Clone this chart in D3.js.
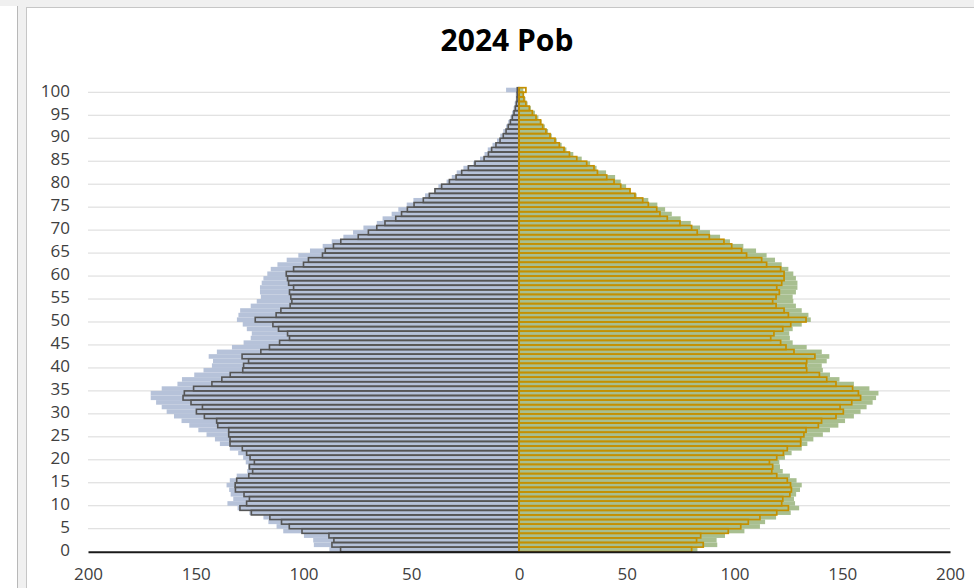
<!DOCTYPE html>
<html>
<head>
<meta charset="utf-8">
<script src="https://cdn.jsdelivr.net/npm/d3@7"></script>
<style>
  html, body { margin: 0; padding: 0; background: #f0f0f0; }
  body { width: 974px; height: 588px; overflow: hidden; position: relative; }
  #side { position: absolute; left: 0; top: 6px; width: 17px; height: 600px; background: #fff; border-right: 1px solid #b8b8b8; }
  #panel { position: absolute; left: 26px; top: 7px; width: 960px; height: 600px; background: #fff; border: 1px solid #c6c6c6; }
  svg { position: absolute; left: 0; top: 0; }
</style>
</head>
<body>
<div id="side"></div>
<div id="panel"></div>
<div id="chart"></div>
<script>
// Ages 0..100
const ages = d3.range(0, 101);

// left side: outlined series and filled series behind it
const leftOutline = [82.8, 86.8, 85.9, 88.2, 100.7, 106.6, 110.2, 115.6, 124.2, 129.5,
  126.4, 125.1, 127.6, 131.6, 131.7, 131, 125.4, 123.6, 125.1, 122.8,
  124.8, 126.4, 128.4, 134.1, 134.1, 134.7, 134.7, 139.8, 140.3, 146,
  149.7, 146.9, 152.2, 155.9, 155.3, 151, 142.5, 137.9, 134, 128.2,
  127.8, 125.5, 128.5, 119.8, 115.8, 111.1, 106.5, 107.4, 111.6, 114.2,
  122.4, 112.7, 110.5, 106.2, 105.4, 105.9, 106.5, 104.6, 106.9, 107.4,
  108, 104.6, 100, 97.7, 91.2, 89.9, 86.1, 82.7, 74.6, 69.9,
  66, 62.2, 57.2, 54.5, 51.8, 48.7, 44.4, 41.6, 39, 35.9,
  32.3, 29.2, 26.6, 23.5, 20.4, 16.2, 14.2, 12.7, 10.7, 8.8,
  7.3, 6, 5, 4, 3.1, 2.3, 1.7, 1.2, 0.9, 0.8, 0.8];
const leftFill = [88, 95.2, 95.5, 99.8, 109.4, 112.5, 116.3, 118.6, 125.1, 130.6,
  135.3, 132.6, 133.8, 134.5, 135.7, 134.2, 131, 126.1, 125.7, 126.8,
  128, 130.3, 134.2, 138.8, 141.1, 145, 148.8, 153, 156.6, 160.1,
  163.5, 165.8, 168.4, 170.9, 170.9, 165.8, 158.5, 156.4, 150.7, 146.4,
  142.5, 142, 144, 140.2, 133.2, 127.8, 124.5, 124, 126.3, 128.2,
  130.9, 130.2, 129.4, 124.5, 121.7, 119.8, 120.2, 120.2, 119.4, 118.6,
  116.8, 115.2, 112.1, 107.8, 102.4, 97, 91.1, 86.9, 81.5, 77,
  72.2, 66, 63.3, 59.1, 56, 52.1, 49, 43.6, 39, 37.4,
  33.6, 31.2, 28.9, 25.8, 21.2, 18.1, 16, 14.5, 12.3, 10.2,
  8.7, 7.3, 6, 5, 4, 3.2, 2.5, 2, 1.5, 1.5, 6];

// right side
const rightOutline = [80.1, 85.5, 82.4, 84.3, 97.1, 102.9, 106.4, 111.8, 119.6, 125,
  121.9, 122.4, 125.7, 126.4, 126, 124.5, 119.6, 117.3, 117.7, 116.2,
  119.6, 122.7, 124.5, 130.7, 130.7, 132.2, 133.2, 138.9, 140.4, 147.1,
  150.5, 149, 154.4, 158.5, 157.5, 154.8, 147.1, 142.8, 139.4, 133.5,
  133.2, 133.5, 137.3, 127.6, 123.9, 121.4, 116.8, 118.3, 122.4, 126.1,
  133.2, 125, 123, 119.3, 117.7, 119.3, 120.8, 119.6, 121.9, 123,
  123, 121.4, 114.9, 112.6, 105.6, 103.3, 98.7, 95.1, 88.3, 82.7,
  80.1, 74.7, 68.8, 65.4, 63.9, 60, 57.4, 53.8, 51.5, 47.2,
  44.1, 40.7, 36.4, 34.8, 31.4, 26.8, 23.4, 20.9, 18.7, 16.7,
  14.4, 12.5, 11, 10, 7.9, 6.2, 4.8, 3.2, 2.3, 2, 3.2];
const rightFill = [82.8, 92, 91.7, 95.6, 104.6, 111.8, 114.2, 119.3, 126.1, 130,
  128.1, 127.6, 128.6, 130.4, 131.2, 128.8, 125.7, 122.4, 121.1, 120.8,
  123.4, 126.5, 131.2, 133.8, 136.6, 141, 144.3, 148.2, 151.3, 155.4,
  158.5, 161.3, 164.1, 165.7, 166.8, 162.6, 155.4, 148.7, 144.3, 141,
  140.5, 142.8, 144, 140.5, 133.5, 127, 125.7, 125.4, 127, 131.2,
  135.4, 134.3, 131.2, 128.5, 127.3, 127, 128.5, 129.2, 129.2, 128.5,
  127.3, 125, 121.9, 118.8, 114.9, 110, 104.1, 97.9, 93.3, 88.6,
  84, 79.7, 75, 70.9, 67.8, 64.2, 60, 54.6, 51.8, 49.7,
  47.2, 44.6, 40.4, 36, 33, 29.1, 25.2, 22, 19.8, 17.5,
  15.2, 13.5, 12, 10.5, 9, 7.4, 5.5, 4, 3, 2, 2];

const xTicks = [-200, -150, -100, -50, 0, 50, 100, 150, 200];
const yTicks = d3.range(0, 101, 5);

const width = 974;
const height = 588;

const x = d3.scaleLinear().domain([-200, 200]).range([88, 950]);
const y = d3.scaleLinear().domain([0, 101]).range([551.7, 87.7]);

const svg = d3.select("#chart")
  .append("svg")
  .attr("width", width)
  .attr("height", height)
  .style("font-family", "'Open Sans', sans-serif");

// title
svg.append("text")
  .attr("x", 507)
  .attr("y", 51)
  .attr("text-anchor", "middle")
  .style("font-size", "30px")
  .style("font-weight", "bold")
  .style("fill", "#000")
  .text("2024 Pob");

// gridlines
svg.append("g")
  .selectAll("line")
  .data(yTicks.filter(d => d > 0))
  .enter()
  .append("line")
  .attr("x1", x(-200))
  .attr("x2", x(200))
  .attr("y1", d => y(d))
  .attr("y2", d => y(d))
  .attr("stroke", "#d9d9d9")
  .attr("stroke-width", 1);

// filled bars behind
svg.append("g")
  .selectAll("rect")
  .data(ages)
  .enter()
  .append("rect")
  .attr("x", d => x(-leftFill[d]))
  .attr("y", d => y(d + 1))
  .attr("width", d => x(0) - x(-leftFill[d]))
  .attr("height", d => y(d) - y(d + 1))
  .attr("fill", "#b6c2d9");

svg.append("g")
  .selectAll("rect")
  .data(ages)
  .enter()
  .append("rect")
  .attr("x", x(0))
  .attr("y", d => y(d + 1))
  .attr("width", d => x(rightFill[d]) - x(0))
  .attr("height", d => y(d) - y(d + 1))
  .attr("fill", "#a8bf90");

// outlined bars
svg.append("g")
  .selectAll("rect")
  .data(ages)
  .enter()
  .append("rect")
  .attr("x", d => x(-leftOutline[d]))
  .attr("y", d => y(d + 1))
  .attr("width", d => x(0) - x(-leftOutline[d]))
  .attr("height", d => y(d) - y(d + 1))
  .attr("fill", "none")
  .attr("stroke", "#555555")
  .attr("stroke-width", 1.6);

svg.append("g")
  .selectAll("rect")
  .data(ages)
  .enter()
  .append("rect")
  .attr("x", x(0))
  .attr("y", d => y(d + 1))
  .attr("width", d => x(rightOutline[d]) - x(0))
  .attr("height", d => y(d) - y(d + 1))
  .attr("fill", "none")
  .attr("stroke", "#c49000")
  .attr("stroke-width", 1.7);

// y axis labels
const yAxis = svg.append("g")
  .attr("transform", `translate(${x(-200)},0)`)
  .call(d3.axisLeft(y).tickValues(yTicks).tickSize(0).tickPadding(18));
yAxis.select(".domain").remove();
yAxis.selectAll("text")
  .attr("dy", "0.22em")
  .style("font-family", "'Open Sans', sans-serif")
  .style("font-size", "17px")
  .style("fill", "#404040");

// x axis
const xAxis = svg.append("g")
  .attr("transform", `translate(0,${y(0)})`)
  .call(d3.axisBottom(x).tickValues(xTicks).tickSize(0).tickPadding(16).tickFormat(d => Math.abs(d)));
xAxis.select(".domain")
  .attr("stroke", "#1a1a1a")
  .attr("stroke-width", 2);
xAxis.selectAll("text")
  .style("font-family", "'Open Sans', sans-serif")
  .style("font-size", "17px")
  .style("fill", "#404040");
</script>
</body>
</html>
